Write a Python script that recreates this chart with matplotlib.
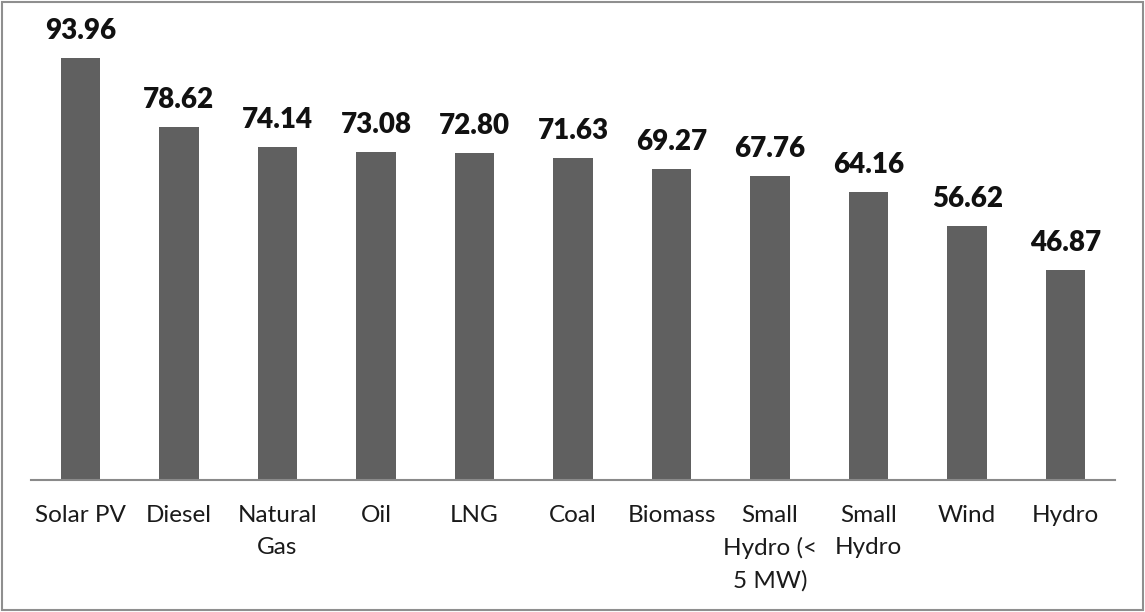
import matplotlib
matplotlib.use("Agg")
import matplotlib.pyplot as plt
from matplotlib.patches import Rectangle

plt.rcParams['font.family'] = ['Lato', 'DejaVu Sans']

# Levelized cost by generation source
categories = ["Solar PV", "Diesel", "Natural\nGas", "Oil", "LNG", "Coal",
              "Biomass", "Small\nHydro (<\n5 MW)", "Small\nHydro", "Wind", "Hydro"]
values = [93.96, 78.62, 74.14, 73.08, 72.80, 71.63, 69.27, 67.76, 64.16, 56.62, 46.87]

W, H = 1145, 612
fig = plt.figure(figsize=(W / 100, H / 100), dpi=100)
fig.patch.set_facecolor("white")

# outer chart border
fig.add_artist(Rectangle((2 / W, 2 / H), (W - 4) / W, (H - 4) / H,
                         transform=fig.transFigure, fill=False,
                         edgecolor="#8f8f8f", linewidth=1.5))

ax = fig.add_axes([31 / W, (H - 480) / H, (1115 - 31) / W, (480 - 31) / H])
x = range(len(categories))
ax.bar(x, values, width=0.4, color="#606060", zorder=2)
ax.set_xlim(-0.5, len(categories) - 0.5)
ax.set_ylim(0, 100)

for xi, v in zip(x, values):
    ax.annotate(f"{v:.2f}", (xi, v), xytext=(0, 10), textcoords="offset points",
                ha="center", va="bottom", fontsize=20, fontweight="heavy",
                color="#111111")

ax.set_xticks(list(x))
ax.set_xticklabels(categories, fontsize=17.5, color="#1a1a1a", linespacing=1.62,
                   va="top", ha="center")
ax.tick_params(axis="x", length=0, pad=18)
ax.set_yticks([])
for s in ["top", "right", "left"]:
    ax.spines[s].set_visible(False)
ax.spines["bottom"].set_color("#8a8a8a")
ax.spines["bottom"].set_linewidth(1.5)

fig.savefig("out.png", dpi=100, facecolor="white")
